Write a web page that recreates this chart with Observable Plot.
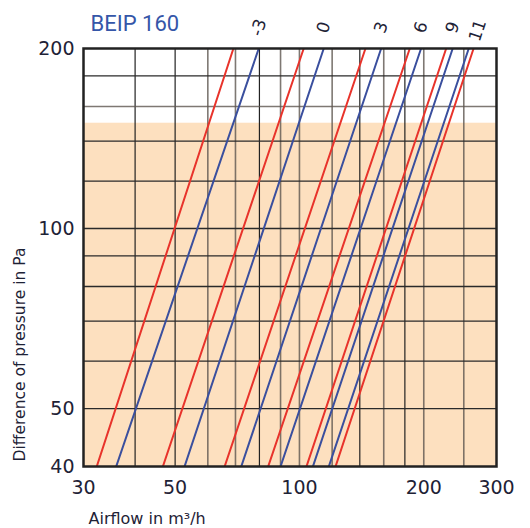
<!DOCTYPE html>
<html>
<head>
<meta charset="utf-8">
<script src="https://cdn.jsdelivr.net/npm/d3@7"></script>
<script src="https://cdn.jsdelivr.net/npm/@observablehq/plot@0.6"></script>
<style>
  html, body { margin: 0; padding: 0; background: #fff; }
  #chart svg { display: block; }
</style>
</head>
<body>
<div id="chart"></div>
<script>
// ---- data ----
const title = "BEIP 160";
const xLabel = "Airflow in m³/h";
const yLabel = "Difference of pressure in Pa";
const xTicks = [30, 50, 100, 200, 300];
const yTicks = [40, 50, 100, 200];
const xGridDark = [40, 50, 80, 140, 180];
const xGridLight = [60, 70, 90, 100, 120, 160, 200, 250];
const yGridDark = [50, 60, 70, 80, 90, 100, 120, 140, 180];
const yGridLight = [160];
const shadedRange = [40, 150];
// each curve: airflow at 40 Pa and at 200 Pa (straight lines on log-log)
const seriesNames = ["r1", "b1", "r2", "b2", "r3", "b3", "r4", "b4", "r5", "b5", "b6", "r6"];
const seriesKind  = ["A", "B", "A", "B", "A", "B", "A", "B", "A", "B", "B", "A"];
const seriesLabel = ["", "-3", "", "0", "", "3", "", "6", "", "9", "11", ""];
const pressureLow = 40;
const pressureHigh = 200;
const flowAtLow  = [32.3, 36.0, 46.7, 52.7, 65.9, 72.3, 84.0, 90.0, 104.0, 107.8, 117.8, 122.3];
const flowAtHigh = [69.2, 79.7, 102.4, 114.5, 144.5, 157.7, 185.0, 197.0, 226.6, 235.0, 257.0, 264.0];

// ---- build table ----
const rows = [];
seriesNames.forEach((s, i) => {
  rows.push({series: s, kind: seriesKind[i], label: seriesLabel[i], q: flowAtLow[i], p: pressureLow});
  rows.push({series: s, kind: seriesKind[i], label: seriesLabel[i], q: flowAtHigh[i], p: pressureHigh});
});
const labelRows = rows.filter(d => d.p === pressureHigh && d.label !== "");
const lastLabel = seriesLabel[10];
const labelRowsMain = labelRows.filter(d => d.label !== lastLabel);
const labelRowsLast = labelRows.filter(d => d.label === lastLabel);

const textColor = "#1e2236";
const font = "'DejaVu Sans', sans-serif";

const chart = Plot.plot({
  width: 530,
  height: 528,
  marginLeft: 83,
  marginRight: 34,
  marginTop: 48,
  marginBottom: 62,
  style: {fontFamily: font, color: textColor, background: "#fff"},
  x: {type: "log", domain: [30, 300]},
  y: {type: "log", domain: [40, 200]},
  color: {domain: ["A", "B"], range: ["#e8332b", "#3a4f9e"]},
  marks: [
    Plot.rect([shadedRange], {y1: d => d[0], y2: d => d[1], fill: "#fde0bf"}),
    Plot.ruleX(xGridLight, {stroke: "#5e5650", strokeWidth: 1.6, strokeOpacity: 0.8}),
    Plot.ruleX(xGridDark, {stroke: "#222", strokeWidth: 1.2}),
    Plot.ruleY(yGridLight, {stroke: "#5e5650", strokeWidth: 1.6, strokeOpacity: 0.8}),
    Plot.ruleY(yGridDark, {stroke: "#2a2a2a", strokeWidth: 1.3}),
    Plot.line(rows, {x: "q", y: "p", z: "series", stroke: "kind", strokeWidth: 2, clip: true}),
    Plot.frame({stroke: "#222", strokeWidth: 2.5}),
    Plot.axisX(xTicks, {tickSize: 0, tickPadding: 14, fontSize: 19, tickFormat: d => String(d), label: null, fill: textColor}),
    Plot.axisY(yTicks, {tickSize: 0, tickPadding: 9, fontSize: 19, tickFormat: d => String(d), label: null, fill: textColor}),
    Plot.text(labelRowsMain, {x: "q", y: "p", text: "label", rotate: -72, dx: 0, dy: -21, fontSize: 17, fill: textColor}),
    Plot.text(labelRowsLast, {x: "q", y: "p", text: "label", rotate: -72, dx: 9, dy: -18, fontSize: 17, fill: textColor}),
    Plot.text([title], {frameAnchor: "top-left", lineAnchor: "bottom", textAnchor: "start", dx: 7, dy: -18, fontSize: 22, fontFamily: "Roboto, sans-serif", fill: "#3556a8"}),
    Plot.text([xLabel], {frameAnchor: "bottom-left", lineAnchor: "bottom", textAnchor: "start", dx: 5, dy: 57, fontSize: 16, fill: textColor}),
    Plot.text([yLabel], {frameAnchor: "left", rotate: -90, textAnchor: "middle", dx: -63, dy: 97, fontSize: 15.5, fill: textColor})
  ]
});
document.getElementById("chart").appendChild(chart);
</script>
</body>
</html>
